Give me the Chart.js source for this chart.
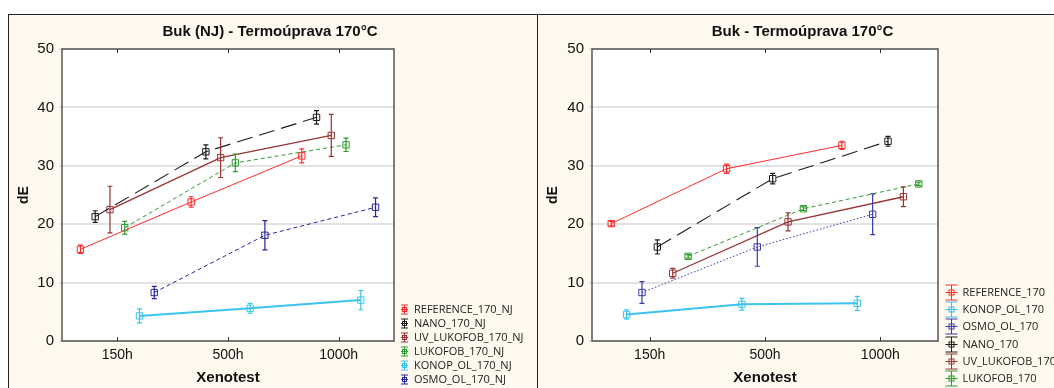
<!DOCTYPE html>
<html>
<head>
<meta charset="utf-8">
<script src="https://cdn.jsdelivr.net/npm/chart.js@4.4.0/dist/chart.umd.min.js"></script>
<style>
    html, body { margin: 0; padding: 0; background: #fff; width: 1054px; height: 388px; overflow: hidden; }
    .panel { position: absolute; top: 14px; height: 400px; box-sizing: border-box; background: #fdf9ee; border: 1px solid #222; border-bottom: none; }
    #panelLeft { left: 8px; width: 530px; }
    #panelRight { left: 537px; width: 540px; border-right: none; }
    canvas { position: absolute; top: 15px; }
    #chartLeft { left: 9px; }
    #chartRight { left: 538px; }
</style>
</head>
<body>
<div class="panel" id="panelLeft"></div>
<div class="panel" id="panelRight"></div>
<canvas id="chartLeft" width="522" height="373"></canvas>
<canvas id="chartRight" width="529" height="373"></canvas>
<script>
// --- data ---
const hours = ['150h', '500h', '1000h'];

// Buk (NJ)
const leftNames = ['REFERENCE_170_NJ', 'NANO_170_NJ', 'UV_LUKOFOB_170_NJ', 'LUKOFOB_170_NJ', 'KONOP_OL_170_NJ', 'OSMO_OL_170_NJ'];
const refNj      = [15.7, 23.8, 31.7];
const nanoNj     = [21.3, 32.4, 38.3];
const uvLukNj    = [22.5, 31.4, 35.2];
const lukNj      = [19.4, 30.5, 33.6];
const konopNj    = [4.3, 5.6, 7.0];
const osmoNj     = [8.3, 18.1, 22.9];
const refNjErr   = [0.7, 0.9, 1.2];
const nanoNjErr  = [1.0, 1.2, 1.15];
const uvLukNjErr = [4.0, 3.4, 3.6];
const lukNjErr   = [1.1, 1.5, 1.15];
const konopNjErr = [1.2, 0.85, 1.65];
const osmoNjErr  = [1.05, 2.5, 1.6];

// Buk
const rightNames = ['REFERENCE_170', 'KONOP_OL_170', 'OSMO_OL_170', 'NANO_170', 'UV_LUKOFOB_170', 'LUKOFOB_170'];
const ref      = [20.1, 29.5, 33.5];
const konop    = [4.55, 6.3, 6.45];
const osmo     = [8.3, 16.1, 21.7];
const nano     = [16.1, 27.8, 34.2];
const uvLuk    = [11.6, 20.4, 24.7];
const luk      = [14.5, 22.65, 26.9];
const refErr   = [0.4, 0.8, 0.7];
const konopErr = [0.8, 1.0, 1.2];
const osmoErr  = [1.85, 3.3, 3.5];
const nanoErr  = [1.2, 0.9, 0.85];
const uvLukErr = [0.85, 1.55, 1.7];
const lukErr   = [0.3, 0.3, 0.3];

// --- styles ---
const RED = '#ff2b2b', BLACK = '#1c1c1c', MAROON = '#983434', GREEN = '#2c9c2c', CYAN = '#3cc3f0', NAVY = '#25259c';
const st = {
    ref:   { color: RED,    width: 1,   dash: [] },
    nano:  { color: BLACK,  width: 1.1, dash: [16, 7] },
    uv:    { color: MAROON, width: 1.3, dash: [] },
    luk:   { color: GREEN,  width: 1,   dash: [4, 3] },
    konop: { color: CYAN,   width: 2,   dash: [] },
    osmoD: { color: NAVY,   width: 1,   dash: [4, 3] },
    osmoP: { color: '#3b3bab', width: 1, dash: [1.5, 2] }
};

Chart.defaults.font.family = '"Liberation Sans", Arial, sans-serif';
Chart.defaults.color = '#111';

// --- plugins ---
const frame = {
    id: 'frame',
    beforeDraw(chart) {
        const { ctx, chartArea: a } = chart;
        ctx.save();
        ctx.fillStyle = '#fff';
        ctx.fillRect(a.left, a.top, a.width, a.height);
        ctx.restore();
    },
    afterDraw(chart) {
        const { ctx, chartArea: a, scales: { x } } = chart;
        ctx.save();
        ctx.strokeStyle = '#555';
        ctx.lineWidth = 1.5;
        ctx.strokeRect(a.left, a.top, a.width, a.height);
        ctx.strokeStyle = '#333';
        ctx.lineWidth = 1;
        ctx.beginPath();
        x.ticks.forEach(t => {
            const px = Math.round(x.getPixelForValue(t.value)) + 0.5;
            ctx.moveTo(px, a.top); ctx.lineTo(px, a.top + 4);
            ctx.moveTo(px, a.bottom); ctx.lineTo(px, a.bottom - 4);
        });
        ctx.stroke();
        ctx.restore();
    }
};

const errorBars = {
    id: 'errorBars',
    afterDatasetsDraw(chart) {
        const ctx = chart.ctx, y = chart.scales.y;
        chart.data.datasets.forEach((ds, i) => {
            const meta = chart.getDatasetMeta(i);
            ctx.save();
            ctx.strokeStyle = ds.borderColor;
            ctx.lineWidth = 1.2;
            ctx.setLineDash([]);
            ctx.beginPath();
            meta.data.forEach((pt, j) => {
                const v = ds.data[j].y, e = ds.errors[j];
                const top = y.getPixelForValue(v + e), bot = y.getPixelForValue(v - e);
                ctx.moveTo(pt.x, top); ctx.lineTo(pt.x, bot);
                ctx.moveTo(pt.x - 2.5, top); ctx.lineTo(pt.x + 2.5, top);
                ctx.moveTo(pt.x - 2.5, bot); ctx.lineTo(pt.x + 2.5, bot);
            });
            ctx.stroke();
            ctx.restore();
        });
    }
};

const sideLegend = {
    id: 'sideLegend',
    afterDraw(chart, args, o) {
        const { ctx, chartArea: a } = chart;
        ctx.save();
        ctx.font = '11px "Open Sans"';
        ctx.textBaseline = 'middle';
        chart.data.datasets.forEach((ds, i) => {
            const cx = Math.round(a.right + o.iconX) + 0.5;
            const cy = Math.round(a.bottom + o.firstRow + i * o.rowGap) + 0.5;
            ctx.strokeStyle = ds.borderColor;
            ctx.lineWidth = 1;
            ctx.setLineDash([]);
            ctx.beginPath();
            ctx.moveTo(cx, cy - o.capH); ctx.lineTo(cx, cy + o.capH);
            ctx.moveTo(cx - o.capW, cy - o.capH); ctx.lineTo(cx + o.capW, cy - o.capH);
            ctx.moveTo(cx - o.capW, cy + o.capH); ctx.lineTo(cx + o.capW, cy + o.capH);
            ctx.moveTo(cx - o.capW, cy); ctx.lineTo(cx + o.capW, cy);
            ctx.stroke();
            ctx.strokeRect(cx - o.box / 2, cy - o.box / 2, o.box, o.box);
            ctx.fillStyle = '#222';
            ctx.fillText(ds.label, a.right + o.textX, cy);
        });
        ctx.restore();
    }
};

// --- builders ---
function buildSets(names, values, errors, styles) {
    const n = names.length;
    return names.map((name, i) => ({
        label: name,
        data: values[i].map((v, j) => ({ x: j + 1 + (i - (n - 1) / 2) * 2 / 15, y: v })),
        errors: errors[i],
        borderColor: styles[i].color,
        borderWidth: styles[i].width,
        borderDash: styles[i].dash,
        pointStyle: 'rect',
        pointRadius: 4.5,
        pointBorderWidth: 1,
        pointBorderColor: styles[i].color,
        pointBackgroundColor: 'rgba(255,255,255,0)',
        fill: false,
        tension: 0
    }));
}

function makeChart(id, title, datasets, axisW, gapW, legendOpts) {
    return new Chart(document.getElementById(id), {
        type: 'line',
        data: { datasets: datasets },
        plugins: [frame, errorBars, sideLegend],
        options: {
            responsive: false,
            animation: false,
            layout: { padding: 0 },
            plugins: {
                legend: { display: false },
                tooltip: { enabled: false },
                title: {
                    display: true,
                    text: title,
                    font: { size: 15, weight: 'bold' },
                    color: '#111',
                    padding: { top: 7.5, bottom: 8.5 }
                },
                sideLegend: legendOpts
            },
            scales: {
                x: {
                    type: 'linear',
                    min: 0.5,
                    max: 3.5,
                    afterBuildTicks: s => { s.ticks = hours.map((h, i) => ({ value: i + 1 })); },
                    ticks: {
                        callback: v => hours[Math.round(v) - 1],
                        font: { size: 14 },
                        padding: 6,
                        autoSkip: false,
                        maxRotation: 0
                    },
                    grid: { display: false, drawTicks: false },
                    border: { display: false },
                    title: {
                        display: true,
                        text: 'Xenotest',
                        font: { size: 15, weight: 'bold' },
                        padding: { top: 0, bottom: 1 }
                    },
                    afterFit: s => { s.height = 47; }
                },
                y: {
                    position: 'left',
                    min: 0,
                    max: 50,
                    ticks: { stepSize: 10, font: { size: 15 }, padding: 5 },
                    grid: { color: '#e2e2e2', lineWidth: 2, drawTicks: true, tickLength: 3 },
                    border: { display: false },
                    title: {
                        display: true,
                        text: 'dE',
                        font: { size: 14, weight: 'bold' },
                        padding: { top: 7, bottom: 0 }
                    },
                    afterFit: s => { s.width = axisW; }
                },
                gap: {
                    type: 'linear',
                    position: 'right',
                    display: true,
                    ticks: { display: false },
                    grid: { display: false, drawTicks: false },
                    border: { display: false },
                    afterFit: s => { s.width = gapW; }
                }
            }
        }
    });
}

makeChart('chartLeft', 'Buk (NJ) - Termoúprava 170°C',
    buildSets(leftNames,
        [refNj, nanoNj, uvLukNj, lukNj, konopNj, osmoNj],
        [refNjErr, nanoNjErr, uvLukNjErr, lukNjErr, konopNjErr, osmoNjErr],
        [st.ref, st.nano, st.uv, st.luk, st.konop, st.osmoD]),
    53, 137,
    { iconX: 10, textX: 20, firstRow: -32.5, rowGap: 14.15, capW: 3.5, capH: 4.5, box: 4 });

makeChart('chartRight', 'Buk - Termoúprava 170°C',
    buildSets(rightNames,
        [ref, konop, osmo, nano, uvLuk, luk],
        [refErr, konopErr, osmoErr, nanoErr, uvLukErr, lukErr],
        [st.ref, st.konop, st.osmoP, st.nano, st.uv, st.luk]),
    54, 129,
    { iconX: 13, textX: 24.5, firstRow: -49, rowGap: 17.2, capW: 6, capH: 7.5, box: 5 });
</script>
</body>
</html>
